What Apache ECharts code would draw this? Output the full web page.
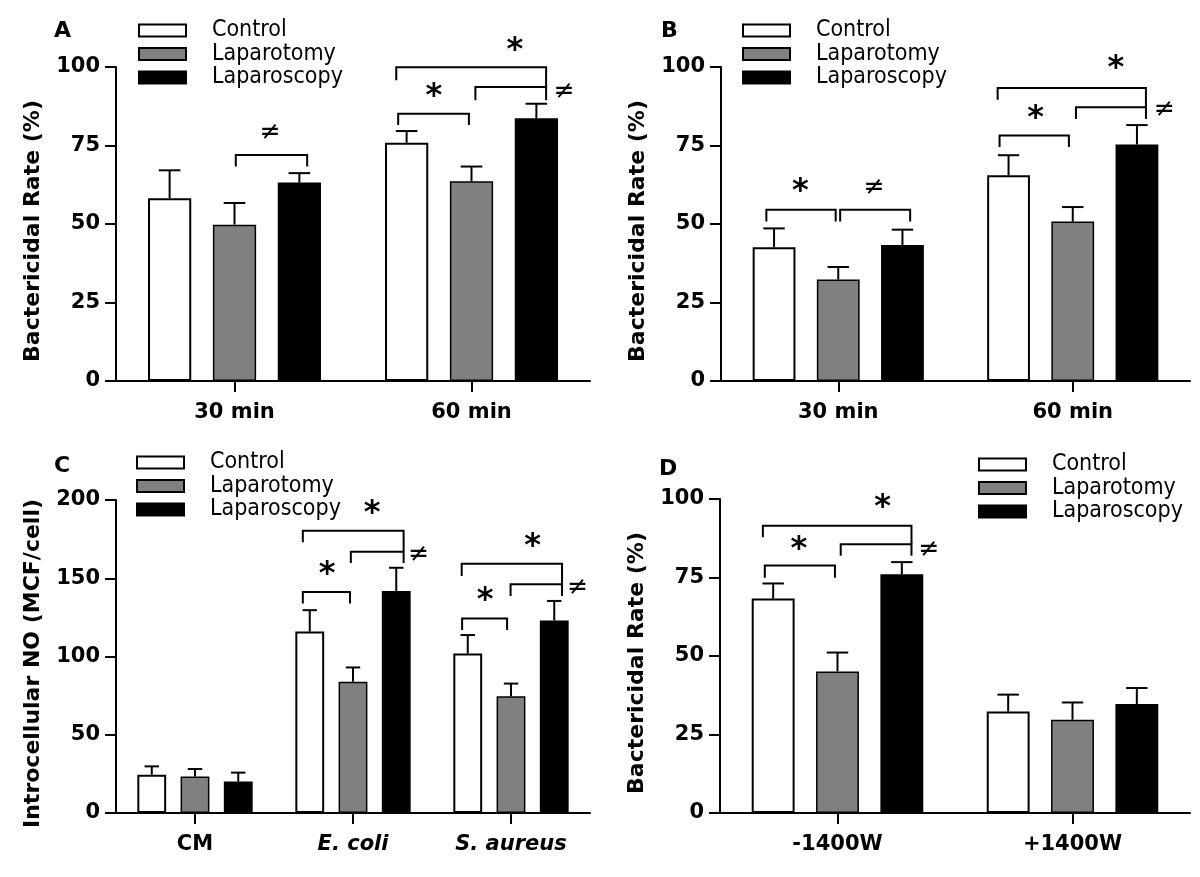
<!DOCTYPE html>
<html>
<head>
<meta charset="utf-8">
<script src="https://cdn.jsdelivr.net/npm/echarts/dist/echarts.min.js"></script>
<style>
html,body{margin:0;padding:0;background:#fff;}
#chart{width:1200px;height:877px;}
</style>
</head>
<body>
<div id="chart"></div>
<script>
// ---------- DATA ----------
const seriesNames = ['Control', 'Laparotomy', 'Laparoscopy'];
const catsA = ['30 min', '60 min'];
const catsB = ['30 min', '60 min'];
const catsC = ['CM', 'E. coli', 'S. aureus'];
const catsD = ['-1400W', '+1400W'];

// Panel A: bactericidal rate (%) - means and SEM
const aControl = [58.2, 75.9];      const aControlSem = [8.9, 3.7];
const aLaparotomy = [49.8, 63.6];   const aLaparotomySem = [6.9, 4.7];
const aLaparoscopy = [63.2, 83.7];  const aLaparoscopySem = [3.0, 4.6];

// Panel B
const bControl = [42.6, 65.5];      const bControlSem = [6.0, 6.4];
const bLaparotomy = [32.3, 50.8];   const bLaparotomySem = [4.0, 4.6];
const bLaparoscopy = [43.3, 75.3];  const bLaparoscopySem = [4.9, 6.2];

// Panel C: intracellular NO (MCF/cell)
const cControl = [24.5, 115.9, 101.9];     const cControlSem = [5.3, 13.7, 11.8];
const cLaparotomy = [23.3, 83.9, 74.6];    const cLaparotomySem = [4.8, 9.1, 8.1];
const cLaparoscopy = [20.1, 141.9, 123.0]; const cLaparoscopySem = [5.7, 14.8, 12.5];

// Panel D
const dControl = [68.3, 32.3];      const dControlSem = [4.8, 5.4];
const dLaparotomy = [45.1, 29.7];   const dLaparotomySem = [6.0, 5.5];
const dLaparoscopy = [76.0, 34.7];  const dLaparoscopySem = [3.9, 5.1];

// significance brackets: [category, fromSlot, toSlot, yTop, leftLegEnd, rightLegEnd]
const aBrackets = [[0, 1.02, 2.12, 72.0, 68.3, 68.3], [1, -0.13, 0.96, 85.1, 81.5, 81.5], [1, 1.06, 2.15, 93.6, 89.4, 89.4], [1, -0.16, 2.15, 99.9, 95.8, 93.6]];
const bBrackets = [[0, -0.12, 0.96, 54.5, 50.8, 50.8], [0, 1.03, 2.12, 54.5, 50.8, 50.8], [1, -0.14, 0.94, 78.2, 74.5, 74.5], [1, 1.05, 2.14, 87.2, 83.4, 83.4], [1, -0.17, 2.14, 93.3, 89.6, 87.2]];
const cBrackets = [[1, -0.16, 0.93, 141.2, 133.8, 133.8], [1, 0.95, 2.17, 167.0, 159.8, 159.8], [1, -0.16, 2.17, 180.3, 173.0, 167.0], [2, -0.13, 0.91, 124.3, 116.9, 116.9], [2, 0.99, 2.18, 146.1, 138.7, 138.7], [2, -0.14, 2.18, 159.2, 151.4, 146.1]];
const dBrackets = [[0, -0.13, 0.96, 78.8, 74.9, 74.9], [0, 1.05, 2.15, 85.6, 81.9, 81.9], [0, -0.16, 2.15, 91.5, 87.8, 85.6]];

// significance marks: [category, slot, y, glyphIndex]
const markGlyphs = ['*', '≠'];
const aMarks = [[0, 1.55, 79.1, 1], [1, 0.42, 91.8, 0], [1, 1.67, 106.6, 0], [1, 2.43, 92.3, 1]];
const bMarks = [[0, 0.41, 61.6, 0], [0, 1.56, 61.6, 1], [1, 0.42, 84.9, 0], [1, 1.67, 100.6, 0], [1, 2.43, 86.5, 1]];
const cMarks = [[1, 0.40, 155.0, 0], [1, 1.44, 194.0, 0], [1, 2.52, 165.0, 1], [2, 0.40, 138.5, 0], [2, 1.50, 173.0, 0], [2, 2.54, 144.4, 1]];
const dMarks = [[0, 0.40, 85.1, 0], [0, 1.70, 98.4, 0], [0, 2.42, 84.0, 1]];

const yMaxAB = 100, yStepAB = 25;
const yMaxC = 200, yStepC = 50;
const yMaxD = 100, yStepD = 25;
const italicCats = ['E. coli', 'S. aureus'];

// ---------- STYLE / LAYOUT ----------
const FONT = '"DejaVu Sans", Verdana, sans-serif';
const LEGFONT = '"DejaVu Sans Condensed", "DejaVu Sans", sans-serif';
const CAT_GAP = 0.27, BAR_GAP = 0.5;
const barStyles = [
  {color: '#ffffff', borderColor: '#000', borderWidth: 2},
  {color: '#808080', borderColor: '#000', borderWidth: 1.5},
  {color: '#000000', borderColor: '#000', borderWidth: 1.5}
];

const panels = [
  {letter: 'A', grid: {left: 116, right: 610, top: 67, bottom: 496}, cats: catsA,
   means: [aControl, aLaparotomy, aLaparoscopy], sems: [aControlSem, aLaparotomySem, aLaparoscopySem],
   brackets: aBrackets, marks: aMarks, yMax: yMaxAB, yStep: yStepAB, yName: 'Bactericidal Rate (%)',
   legend: {left: 138, top: 19}, letterPos: {left: 54, top: 20}},
  {letter: 'B', grid: {left: 721, right: 10, top: 67, bottom: 496}, cats: catsB,
   means: [bControl, bLaparotomy, bLaparoscopy], sems: [bControlSem, bLaparotomySem, bLaparoscopySem],
   brackets: bBrackets, marks: bMarks, yMax: yMaxAB, yStep: yStepAB, yName: 'Bactericidal Rate (%)',
   legend: {left: 742, top: 19}, letterPos: {left: 661, top: 20}},
  {letter: 'C', grid: {left: 116, right: 610, top: 500, bottom: 64}, cats: catsC,
   means: [cControl, cLaparotomy, cLaparoscopy], sems: [cControlSem, cLaparotomySem, cLaparoscopySem],
   brackets: cBrackets, marks: cMarks, yMax: yMaxC, yStep: yStepC, yName: 'Introcellular NO (MCF/cell)',
   legend: {left: 136, top: 451}, letterPos: {left: 54, top: 455}},
  {letter: 'D', grid: {left: 720, right: 10, top: 499, bottom: 64}, cats: catsD,
   means: [dControl, dLaparotomy, dLaparoscopy], sems: [dControlSem, dLaparotomySem, dLaparoscopySem],
   brackets: dBrackets, marks: dMarks, yMax: yMaxD, yStep: yStepD, yName: 'Bactericidal Rate (%)',
   legend: {left: 978, top: 453}, letterPos: {left: 659, top: 458}}
];

function slotX(api, cat, slot, yv) {
  const p = api.coord([cat, yv]);
  const band = api.size([1, 0])[0];
  const bw = band * (1 - CAT_GAP) / (3 + 2 * BAR_GAP);
  return [p[0] + (slot - 1) * bw * (1 + BAR_GAP), p[1], bw];
}

function errRender(params, api) {
  const cat = api.value(0), slot = api.value(1), mean = api.value(2), sem = api.value(3);
  const a = slotX(api, cat, slot, mean);
  const b = api.coord([cat, mean + sem]);
  const half = a[2] / 4;
  return {type: 'group', children: [
    {type: 'line', shape: {x1: a[0], y1: a[1], x2: a[0], y2: b[1]}, style: {stroke: '#000', lineWidth: 2}},
    {type: 'line', shape: {x1: a[0] - half, y1: b[1], x2: a[0] + half, y2: b[1]}, style: {stroke: '#000', lineWidth: 2}}
  ]};
}

function bracketRender(params, api) {
  const cat = api.value(0);
  const l = slotX(api, cat, api.value(1), api.value(3));
  const r = slotX(api, cat, api.value(2), api.value(3));
  const yl = api.coord([cat, api.value(4)])[1];
  const yr = api.coord([cat, api.value(5)])[1];
  return {type: 'polyline', shape: {points: [[l[0], yl], [l[0], l[1]], [r[0], r[1]], [r[0], yr]]},
    style: {stroke: '#000', lineWidth: 2, fill: null}};
}

function markRender(params, api) {
  const cat = api.value(0);
  const p = slotX(api, cat, api.value(1), api.value(2));
  const g = api.value(3);
  const isStar = g === 0;
  return {type: 'text', x: p[0], y: p[1] + (isStar ? 4 : 0),
    style: {text: markGlyphs[g], fill: '#000', align: 'center', verticalAlign: 'middle',
      fontFamily: FONT, fontSize: isStar ? 32 : 25, fontWeight: isStar ? 'bold' : 'normal'}};
}

const option = {
  animation: false,
  backgroundColor: '#fff',
  title: [], grid: [], xAxis: [], yAxis: [], legend: [], series: []
};

panels.forEach((pn, i) => {
  option.title.push({text: pn.letter, left: pn.letterPos.left, top: pn.letterPos.top, padding: 0,
    textStyle: {fontFamily: FONT, fontWeight: 'bold', fontSize: 22, color: '#000'}});
  option.grid.push(Object.assign({containLabel: false}, pn.grid));
  option.xAxis.push({
    type: 'category', gridIndex: i, data: pn.cats,
    axisLine: {show: true, lineStyle: {color: '#000', width: 2}},
    axisTick: {show: true, alignWithLabel: true, length: 11, lineStyle: {color: '#000', width: 2}},
    axisLabel: {margin: 21, interval: 0, color: '#000', fontFamily: FONT, fontWeight: 'bold', fontSize: 21,
      formatter: v => italicCats.indexOf(v) >= 0 ? '{i|' + v + '}' : v,
      rich: {i: {fontStyle: 'italic', fontWeight: 'bold', fontSize: 21, fontFamily: FONT, color: '#000'}}},
    splitLine: {show: false}
  });
  option.yAxis.push({
    type: 'value', gridIndex: i, min: 0, max: pn.yMax, interval: pn.yStep,
    name: pn.yName, nameLocation: 'middle', nameGap: 72,
    nameTextStyle: {fontFamily: FONT, fontWeight: 'bold', fontSize: 22, color: '#000', padding: [0, 14, 0, 0]},
    axisLine: {show: true, lineStyle: {color: '#000', width: 2}},
    axisTick: {show: true, length: 11, lineStyle: {color: '#000', width: 2}},
    axisLabel: {margin: 16, color: '#000', fontFamily: FONT, fontWeight: 'bold', fontSize: 21},
    splitLine: {show: false}
  });
  option.legend.push({
    left: pn.legend.left, top: pn.legend.top, orient: 'vertical', padding: 0,
    itemWidth: 47, itemHeight: 12, itemGap: 0.5, selectedMode: false, icon: 'rect',
    data: seriesNames,
    textStyle: {fontFamily: LEGFONT, fontSize: 23, lineHeight: 23, color: '#000', padding: [0, 0, 0, 21]}
  });
  for (let s = 0; s < 3; s++) {
    option.series.push({
      name: seriesNames[s], type: 'bar', xAxisIndex: i, yAxisIndex: i,
      data: pn.means[s], barGap: (BAR_GAP * 100) + '%', barCategoryGap: (CAT_GAP * 100) + '%',
      itemStyle: barStyles[s], emphasis: {disabled: true}, silent: true
    });
  }
  const errData = [];
  pn.cats.forEach((c, ci) => { for (let s = 0; s < 3; s++) errData.push([ci, s, pn.means[s][ci], pn.sems[s][ci]]); });
  option.series.push({type: 'custom', xAxisIndex: i, yAxisIndex: i, renderItem: errRender, data: errData,
    encode: {x: 0, y: 2}, z: 3, silent: true, clip: false});
  option.series.push({type: 'custom', xAxisIndex: i, yAxisIndex: i, renderItem: bracketRender, data: pn.brackets,
    encode: {x: 0, y: 3}, z: 3, silent: true, clip: false});
  option.series.push({type: 'custom', xAxisIndex: i, yAxisIndex: i, renderItem: markRender, data: pn.marks,
    encode: {x: 0, y: 2}, z: 3, silent: true, clip: false});
});

const chart = echarts.init(document.getElementById('chart'), null, {renderer: 'canvas'});
chart.setOption(option);
</script>
</body>
</html>
